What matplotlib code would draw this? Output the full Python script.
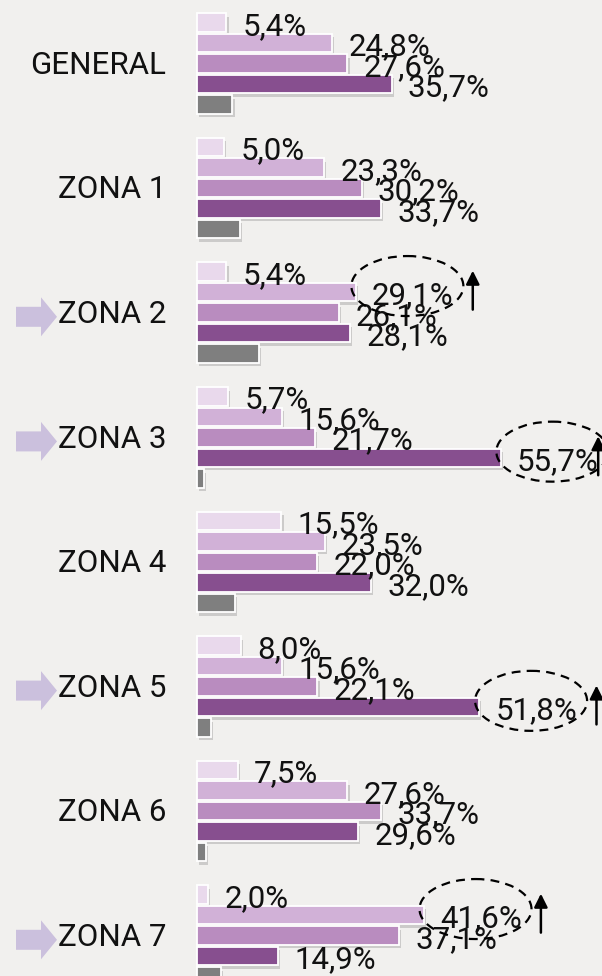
import matplotlib.pyplot as plt
import matplotlib.patheffects as pe
from matplotlib.patches import Ellipse, Polygon

plt.rcParams['font.family'] = ['Roboto', 'DejaVu Sans']

# Data
zones = ["GENERAL", "ZONA 1", "ZONA 2", "ZONA 3", "ZONA 4", "ZONA 5", "ZONA 6", "ZONA 7"]
serie_1 = [5.4, 5.0, 5.4, 5.7, 15.5, 8.0, 7.5, 2.0]
serie_2 = [24.8, 23.3, 29.1, 15.6, 23.5, 15.6, 27.6, 41.6]
serie_3 = [27.6, 30.2, 26.1, 21.7, 22.0, 22.1, 33.7, 37.1]
serie_4 = [35.7, 33.7, 28.1, 55.7, 32.0, 51.8, 29.6, 14.9]
serie_nc = [6.5, 7.8, 11.3, 1.3, 7.0, 2.5, 1.6, 4.4]  # unlabelled grey bar

arrow_zones = ["ZONA 2", "ZONA 3", "ZONA 5", "ZONA 7"]
# (zone, series index) of the circled values
circled = [("ZONA 2", 1), ("ZONA 3", 3), ("ZONA 5", 3), ("ZONA 7", 1)]

series = [serie_1, serie_2, serie_3, serie_4, serie_nc]
colors = ["#e9d9ec", "#d1b1d7", "#b98cbf", "#874f8f", "#7f7f7f"]
labelled = [True, True, True, True, False]

# Layout (pixels)
W, H = 602, 976
px_pct = 5.45       # pixels per percent
x0 = 197            # pixel of the bars' base
px_slot = 20.5      # pixels per bar slot
first = 22.5        # pixel centre of first bar
group_pitch = 124.6 / px_slot
fs = 22.5

fig = plt.figure(figsize=(W / 100, H / 100), dpi=100)
fig.patch.set_facecolor("#f1f0ee")
ax = fig.add_axes([0, 0, 1, 1])
ax.set_facecolor("#f1f0ee")
ax.set_xlim(-x0 / px_pct, (W - x0) / px_pct)
ax.set_ylim((H - first) / px_slot, -first / px_slot)
ax.axis("off")

shadow = [pe.withSimplePatchShadow(offset=(1.5, -2.5), shadow_rgbFace="#888888", alpha=0.35)]

for g, zone in enumerate(zones):
    base = g * group_pitch
    for k, vals in enumerate(series):
        y = base + k
        v = vals[g]
        bar = ax.barh(y, v, height=0.9, left=0, color=colors[k],
                      edgecolor="white", linewidth=1.3, zorder=3)
        for p in bar:
            p.set_path_effects(shadow)
        if labelled[k]:
            ax.text(v + 3.0, y + 0.6, f"{v:.1f}".replace(".", ",") + "%",
                    fontsize=fs, color="#111111", ha="left", va="baseline", zorder=5)
    gc = base + 2
    ax.text(-31 / px_pct, gc + 0.5, zone, fontsize=fs, color="#111111",
            ha="right", va="baseline", zorder=5)

    if zone in arrow_zones:
        tip = -140 / px_pct
        ay = gc + 0.2
        L, S, hs, hh = 41 / px_pct, 25 / px_pct, 10 / px_slot, 19.5 / px_slot
        pts = [(tip - L, ay - hs), (tip - L + S, ay - hs), (tip - L + S, ay - hh),
               (tip, ay), (tip - L + S, ay + hh), (tip - L + S, ay + hs), (tip - L, ay + hs)]
        ax.add_patch(Polygon(pts, closed=True, facecolor="#cbc0dd", edgecolor="none", zorder=4))

xmax = ax.get_xlim()[1]
for zone, k in circled:
    g = zones.index(zone)
    v = series[k][g]
    y = g * group_pitch + k
    cx = v + 9.5
    ax.add_patch(Ellipse((cx, y - 0.3), width=112 / px_pct, height=60 / px_slot,
                         fill=False, edgecolor="black", linewidth=1.6,
                         linestyle=(0, (4, 2.8)), zorder=6))
    axx = min(cx + 12, xmax - 0.7)
    ax.annotate("", xy=(axx, y - 1.05), xytext=(axx, y + 0.85),
                arrowprops=dict(arrowstyle="-|>", color="black", lw=1.8,
                                mutation_scale=20, shrinkA=0, shrinkB=0),
                zorder=6)

fig.savefig("out.png", dpi=100, facecolor=fig.get_facecolor())
